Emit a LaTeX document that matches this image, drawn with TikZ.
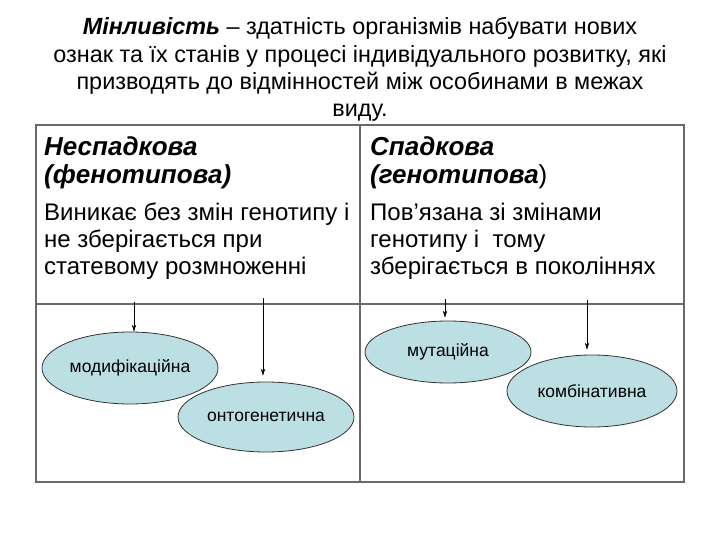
\documentclass[tikz,border=0pt]{standalone}
\usepackage{fontspec}
\setmainfont{Liberation Sans}
\usetikzlibrary{shapes.geometric,arrows.meta}
\definecolor{ovalfill}{RGB}{188,223,228}
\definecolor{gridline}{RGB}{105,105,105}

\begin{document}
\begin{tikzpicture}[x=1pt,y=-1pt,
  kind/.style={ellipse,draw=black!80,fill=ovalfill,line width=0.8pt,inner sep=0pt,
    minimum width=176pt,minimum height=72pt,font=\fontsize{17.5}{20}\selectfont},
  arr/.style={-{Stealth[length=7pt,width=4.5pt]},line width=0.7pt},
  head/.style={anchor=north west,align=left,inner sep=0pt,
    font=\fontsize{26}{28}\selectfont\bfseries\itshape},
  body/.style={anchor=north west,align=left,inner sep=0pt,
    font=\fontsize{24}{27}\selectfont}]
\useasboundingbox (0,0) rectangle (720,540);
\fill[white] (0,0) rectangle (720,540);
% title
\node[anchor=north,align=center,inner sep=0pt,font=\fontsize{23.4}{27.3}\selectfont] (title) at (360,17.5)
  {\textbf{\textit{Мінливість}} – здатність організмів набувати нових\\
   ознак та їх станів у процесі індивідуального розвитку, які\\
   призводять до відмінностей між особинами в межах\\
   виду.};
% table
\draw[gridline,line width=1.4pt] (36,125) rectangle (684,482);
\draw[gridline,line width=1.4pt] (360,125) -- (360,482);
\draw[gridline,line width=1.4pt] (36,304) -- (684,304);
% cells
\node[head] (nonher) at (44,136.5) {Неспадкова\\(фенотипова)};
\node[body] (nonhertxt) at (44,202.5) {Виникає без змін генотипу і\\не зберігається при\\статевому розмноженні};
\node[head] (her) at (370,136.5) {Спадкова\\(генотипова\textnormal{)}};
\node[body] (hertxt) at (370,202.5) {Пов’язана зі змінами\\генотипу і\ \ тому\\зберігається в поколіннях};
% kinds
\node[kind] (modif) at (130,368) {модифікаційна};
\node[kind,minimum height=70pt] (onto) at (266,417) {онтогенетична};
\node[kind,minimum width=166pt,minimum height=62pt] (mutat) at (448,352) {мутаційна};
\node[kind,minimum width=170pt] (combi) at (592,391) {комбінативна};
% arrows
\coordinate (a1) at (134,302);
\coordinate (a2) at (263,298);
\coordinate (a3) at (445,299);
\coordinate (a4) at (587,300);
\draw[arr] (a1) -- (a1 |- modif.north);
\draw[arr,shorten >=6pt] (a2) -- (a2 |- onto.north);
\draw[arr,shorten >=3pt] (a3) -- (a3 |- mutat.north);
\draw[arr,shorten >=5pt] (a4) -- (a4 |- combi.north);
\end{tikzpicture}
\end{document}
